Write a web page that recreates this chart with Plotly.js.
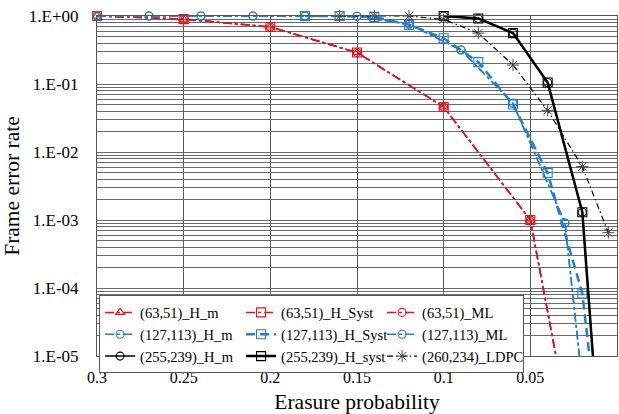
<!DOCTYPE html>
<html>
<head>
<meta charset="utf-8">
<script src="https://cdn.plot.ly/plotly-3.0.1.min.js"></script>
<style>html,body{margin:0;padding:0;background:#fff;}#chart{width:619px;height:414px;}</style>
</head>
<body>
<div id="chart"></div>
<script>
// (63,51) code: H_m, H_Syst and ML curves coincide
const x63 = [0.3, 0.25, 0.2, 0.15, 0.1, 0.05, 0.03];
const fer63Hm = [1, 0.9, 0.69, 0.29, 0.046, 1.0e-3, 2e-6];
const fer63Syst = [1, 0.9, 0.69, 0.29, 0.046, 1.0e-3, 2e-6];
const fer63ML = [1, 0.9, 0.69, 0.29, 0.046, 1.0e-3, 2e-6];

// (127,113) code
const x127Circ = [0.3, 0.27, 0.24, 0.21, 0.18, 0.15, 0.12, 0.09, 0.06, 0.03, 0.0];
const fer127Hm = [1, 1, 1, 1, 1, 0.99, 0.76, 0.316, 0.052, 9e-4, 8e-11];
const fer127ML = [1, 1, 1, 1, 1, 0.99, 0.76, 0.316, 0.052, 9e-4, 8e-11];
const x127Syst = [0.18, 0.16, 0.14, 0.12, 0.1, 0.08, 0.06, 0.04, 0.02, 0.01];
const fer127Syst = [1, 1, 0.97, 0.74, 0.47, 0.21, 0.05, 4.9e-3, 8.3e-5, 5e-7];

// (255,239) code
const x255 = [0.1, 0.08, 0.06, 0.04, 0.02, 0.01];
const fer255Hm = [1, 0.92, 0.56, 0.105, 1.3e-3, 4.5e-7];
const fer255Syst = [1, 0.92, 0.56, 0.105, 1.3e-3, 4.5e-7];

// (260,234) LDPC
const xLdpc = [0.16, 0.14, 0.12, 0.1, 0.08, 0.06, 0.04, 0.02, 0.005];
const ferLdpc = [1, 1, 1, 0.89, 0.56, 0.19, 0.041, 6.1e-3, 6.5e-4];

const names = ['(63,51)_H_m', '(63,51)_H_Syst', '(63,51)_ML',
               '(127,113)_H_m', '(127,113)_H_Syst', '(127,113)_ML',
               '(255,239)_H_m', '(255,239)_H_syst', '(260,234)_LDPC'];

const xTickVals = [0.3, 0.25, 0.2, 0.15, 0.1, 0.05, 0];
const xTickText = ['0.3', '0.25', '0.2', '0.15', '0.1', '0.05', '0'];
const yMajorVals = [1, 1e-1, 1e-2, 1e-3, 1e-4, 1e-5];
const yMajorText = ['1.E+00', '1.E-01', '1.E-02', '1.E-03', '1.E-04', '1.E-05'];

// build tick/grid values for every 1..9 multiple inside each decade
const yTickVals = [];
const yTickText = [];
for (let e = -5; e <= 0; e++) {
  for (let m = 1; m <= 9; m++) {
    const v = m * Math.pow(10, e);
    if (v > 1.0000001) break;
    yTickVals.push(v);
    const idx = yMajorVals.findIndex(t => Math.abs(t - v) / t < 1e-9);
    yTickText.push(idx >= 0 ? yMajorText[idx] : '');
  }
}

const RED = '#e0141e', BLUE = '#1f7dd0', BLACK = '#000000';

function tr(x, y, name, color, dash, width, symbol, msize) {
  return {
    x: x, y: y, name: name, type: 'scatter', mode: 'lines+markers',
    cliponaxis: false,
    line: {color: color, dash: dash, width: width},
    marker: {symbol: symbol, size: msize || 8, color: color, line: {color: color, width: 1.1}}
  };
}

const data = [
  tr(x63, fer63Hm, names[0], RED, 'dashdot', 1.5, 'triangle-up-open', 8),
  tr(x63, fer63Syst, names[1], RED, 'dashdot', 1.5, 'square-open', 9),
  tr(x63, fer63ML, names[2], RED, 'dashdot', 1.5, 'circle-open', 8),
  tr(x127Circ, fer127Hm, names[3], BLUE, 'dashdot', 1.5, 'circle-open', 8),
  tr(x127Syst, fer127Syst, names[4], BLUE, '9px,5px', 2.5, 'square-open', 9),
  tr(x127Circ, fer127ML, names[5], BLUE, 'dashdot', 1.5, 'circle-open', 8),
  tr(x255, fer255Hm, names[6], BLACK, 'solid', 1.5, 'circle-open', 8),
  tr(x255, fer255Syst, names[7], BLACK, 'solid', 2.5, 'square-open', 9),
  tr(xLdpc, ferLdpc, names[8], BLACK, '6px,3px,1.5px,3px', 1.2, 'asterisk-open', 10)
];
data[8].marker.color = '#444';
data[8].marker.line = {color: '#444', width: 1};

const serif = '"Liberation Serif", "Times New Roman", Times, serif';

const layout = {
  width: 619, height: 414,
  margin: {l: 97, r: 2, t: 16, b: 58},
  paper_bgcolor: '#fff', plot_bgcolor: '#fff',
  font: {family: serif, color: '#000', size: 16},
  showlegend: true,
  xaxis: {
    range: [0.3, 0], tickmode: 'array', tickvals: xTickVals, ticktext: xTickText,
    showgrid: true, gridcolor: '#5a5a5a', gridwidth: 1,
    zeroline: false, showline: true, linecolor: '#555', linewidth: 1, mirror: true,
    ticks: '', ticklabelstandoff: 7, tickfont: {family: serif, size: 16, color: '#000'},
    title: {text: 'Erasure probability', font: {family: serif, size: 21.5, color: '#000'}, standoff: 8}
  },
  yaxis: {
    type: 'log', range: [-5, 0], tickmode: 'array', tickvals: yTickVals, ticktext: yTickText,
    showgrid: true, gridcolor: '#6a6a6a', gridwidth: 1,
    zeroline: false, showline: true, linecolor: '#555', linewidth: 1, mirror: true,
    ticks: '', ticklabelstandoff: 14, tickfont: {family: serif, size: 17, color: '#000'},
    title: {text: 'Frame error rate', font: {family: serif, size: 21.5, color: '#000'}, standoff: 6}
  },
  legend: {
    orientation: 'h', x: 0.004, y: 0.178, xanchor: 'left', yanchor: 'top',
    bgcolor: '#fff', bordercolor: '#555', borderwidth: 1,
    entrywidth: 96, entrywidthmode: 'pixels',
    tracegroupgap: 0, itemwidth: 30,
    font: {family: serif, size: 14.5, color: '#000'}
  }
};

Plotly.newPlot('chart', data, layout, {staticPlot: true, displayModeBar: false});
</script>
</body>
</html>
